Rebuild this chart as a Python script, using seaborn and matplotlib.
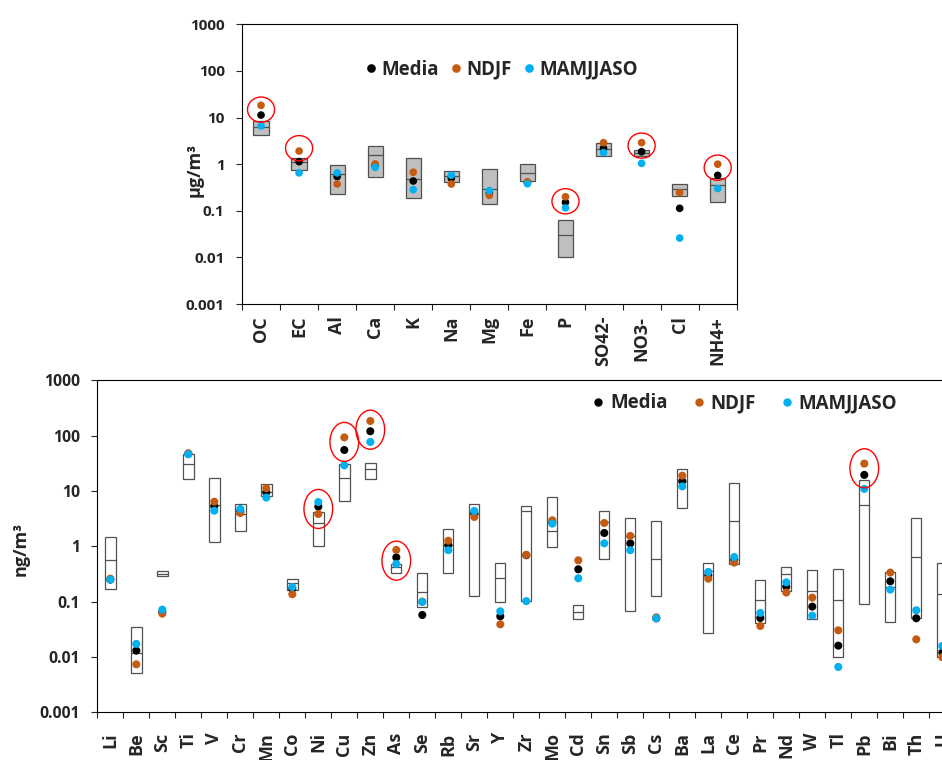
import numpy as np
import pandas as pd
import seaborn as sns
import matplotlib.pyplot as plt
from matplotlib.lines import Line2D
from matplotlib.markers import MarkerStyle
from matplotlib.path import Path
from matplotlib.transforms import Affine2D
from matplotlib.ticker import NullLocator

# upper panel, major components (ug/m3)
top_species = ['OC', 'EC', 'Al', 'Ca', 'K', 'Na', 'Mg', 'Fe', 'P', 'SO42-', 'NO3-', 'Cl', 'NH4+']
top_low = [4.2, 0.74, 0.233, 0.54, 0.19, 0.414, 0.137, 0.43, 0.01, 1.47, 1.47, 0.207, 0.154]
top_median = [6.2, 1.09, 0.615, 1.55, 0.48, 0.557, 0.30, 0.635, 0.0297, 2.11, 1.74, 0.288, 0.35]
top_high = [8.4, 1.38, 0.96, 2.5, 1.33, 0.72, 0.79, 1.03, 0.062, 2.8, 2.01, 0.369, 0.497]
top_media = [11.3, 1.13, 0.54, 0.93, 0.435, 0.50, 0.24, 0.40, 0.152, 2.2, 1.85, 0.113, 0.575]
top_ndjf = [18.3, 1.91, 0.375, 1.01, 0.67, 0.375, 0.214, 0.42, 0.2, 2.89, 2.89, 0.245, 1.0]
top_mamj = [6.6, 0.65, 0.65, 0.855, 0.284, 0.58, 0.27, 0.38, 0.115, 1.77, 1.04, 0.026, 0.30]
top_marked = {'OC': 14.8, 'EC': 2.2, 'P': 0.16, 'NO3-': 2.5, 'NH4+': 0.84}

# lower panel, trace elements (ng/m3)
elements = ['Li', 'Be', 'Sc', 'Ti', 'V', 'Cr', 'Mn', 'Co', 'Ni', 'Cu', 'Zn', 'As', 'Se', 'Rb',
            'Sr', 'Y', 'Zr', 'Mo', 'Cd', 'Sn', 'Sb', 'Cs', 'Ba', 'La', 'Ce', 'Pr', 'Nd', 'W',
            'Tl', 'Pb', 'Bi', 'Th', 'U']
el_low = [0.172, 0.00514, 0.295, 16.3, 1.18, 1.89, 8.2, 0.163, 1.01, 6.6, 16.5, 0.325, 0.080,
          0.325, 0.126, 0.0986, 0.103, 0.986, 0.0486, 0.59, 0.0687, 0.128, 5.0, 0.0272, 0.48,
          0.0406, 0.154, 0.0486, 0.00986, 0.0895, 0.0423, 0.05, 0.00986]
el_median = [0.566, 0.012, 0.32, 31.2, 5.6, 3.79, 9.7, 0.214, 2.68, 17.2, 25, 0.43, 0.15,
             1.06, 3.79, 0.272, 4.29, 1.87, 0.065, 2.79, 1.54, 0.58, 15.4, 0.363, 2.91,
             0.106, 0.316, 0.154, 0.107, 5.6, 0.18, 0.65, 0.136]
el_high = [1.50, 0.0348, 0.353, 46, 17.4, 5.74, 13.6, 0.253, 4.23, 30.3, 31.6, 0.473, 0.334,
           2.06, 5.74, 0.507, 5.36, 7.7, 0.087, 4.3, 3.3, 2.91, 24.6, 0.507, 13.8,
           0.25, 0.423, 0.368, 0.389, 15.8, 0.35, 3.3, 0.493]
el_media = [0.25, 0.013, 0.065, 47, 5.3, 4.3, 9.5, 0.17, 5.2, 55, 120, 0.63, 0.0574,
            1.05, 4.0, 0.0543, 0.69, 2.7, 0.384, 1.74, 1.13, 0.05, 15, 0.3, 0.57,
            0.0507, 0.187, 0.0813, 0.016, 19.5, 0.233, 0.05, 0.012]
el_ndjf = [0.26, 0.00736, 0.0607, 48, 6.4, 4.0, 11.2, 0.136, 3.84, 93, 184, 0.86, 0.1,
           1.26, 3.39, 0.0389, 0.70, 2.95, 0.558, 2.64, 1.54, 0.052, 18.9, 0.26, 0.507,
           0.0363, 0.146, 0.118, 0.0303, 31.2, 0.335, 0.0208, 0.0099]
el_mamj = [0.25, 0.0172, 0.0716, 46, 4.4, 4.73, 7.6, 0.184, 6.3, 29, 77, 0.48, 0.0986,
           0.85, 4.35, 0.0668, 0.102, 2.57, 0.264, 1.13, 0.85, 0.05, 12.1, 0.344, 0.64,
           0.0624, 0.223, 0.0558, 0.0066, 10.9, 0.165, 0.0697, 0.0158]
el_marked = {'Ni': 4.73, 'Cu': 77, 'Zn': 128, 'As': 0.55, 'Pb': 25.7}

series = ['Media', 'NDJF', 'MAMJJASO']
palette = {'Media': 'black', 'NDJF': '#C55A11', 'MAMJJASO': '#00B0F0'}
decades = [0.001, 0.01, 0.1, 1, 10, 100, 1000]
decade_labels = ['0.001', '0.01', '0.1', '1', '10', '100', '1000']

sns.set_style('ticks')
plt.rcParams['font.family'] = ['Open Sans', 'DejaVu Sans']
plt.rcParams['font.weight'] = 'bold'
plt.rcParams['axes.labelweight'] = 'bold'
plt.rcParams['axes.edgecolor'] = 'black'
plt.rcParams['axes.linewidth'] = 0.8


def draw_panel(ax, names, low, med, high, media, ndjf, mamj, box_color, dot):
    # each box runs from low to high with a line at the median
    boxes = pd.DataFrame({'species': np.repeat(names, 5),
                          'value': np.column_stack([low, low, med, high, high]).ravel()})
    sns.boxplot(data=boxes, x='species', y='value', order=names, whis=0, width=0.4,
                color=box_color, saturation=1, linecolor='#505050', linewidth=0.9,
                showcaps=False, fliersize=0, log_scale=True, ax=ax)
    pts = pd.concat([pd.DataFrame({'species': names, 'value': v, 'serie': s})
                     for s, v in zip(series, [media, ndjf, mamj])])
    sns.stripplot(data=pts, x='species', y='value', hue='serie', order=names,
                  hue_order=series, palette=palette, jitter=False, size=dot, linewidth=0,
                  log_scale=True, legend=False, ax=ax)
    n = len(names)
    ax.set_xlim(-0.5, n - 0.5)
    ax.set_ylim(0.001, 1000)
    ax.set_yticks(decades, decade_labels)
    ax.yaxis.set_minor_locator(NullLocator())
    ax.set_xticks(np.arange(n + 1) - 0.5, [''] * (n + 1))
    ax.set_xticks(np.arange(n), names, minor=True)
    ax.tick_params(axis='both', which='major', length=4, width=0.8, direction='out')
    ax.tick_params(axis='y', pad=8.5)
    ax.set_xlabel('')
    for s in ax.spines.values():
        s.set_visible(True)
        s.set_color('black')


def ring(ax, names, marked, size, stretch):
    shape = MarkerStyle(Path.unit_circle().transformed(Affine2D().scale(1, stretch)))
    ax.scatter([names.index(k) for k in marked], list(marked.values()), s=size,
               marker=shape, facecolors='none', edgecolors='red', linewidths=1.0, zorder=5)


def legend(ax, anchor, msize, colsp, tpad):
    handles = [Line2D([], [], marker='o', ls='', color=palette[s], markersize=msize)
               for s in series]
    ax.legend(handles, series, loc='center', bbox_to_anchor=anchor, ncol=3, frameon=False,
              handlelength=0.5, handletextpad=tpad, columnspacing=colsp,
              prop={'size': 13.5, 'weight': 'bold'})


fig = plt.figure(figsize=(9.42, 7.6), dpi=100)
ax1 = fig.add_axes([0.2569, 0.6, 0.5252, 0.368])
ax2 = fig.add_axes([0.1033, 0.0628, 0.9108, 0.4368])

draw_panel(ax1, top_species, top_low, top_median, top_high, top_media, top_ndjf, top_mamj,
           '#BFBFBF', 5.5)
ring(ax1, top_species, top_marked, 380, 0.93)
legend(ax1, (0.526, 0.837), 5.2, 0.7, 0.27)
ax1.set_ylabel('µg/m³', fontsize=13)
ax1.yaxis.set_label_coords(-0.078, 0.481)
ax1.tick_params(axis='y', labelsize=11)
ax1.tick_params(axis='x', which='minor', length=0, labelsize=13, labelrotation=90, pad=8.6)

draw_panel(ax2, elements, el_low, el_median, el_high, el_media, el_ndjf, el_mamj,
           'white', 5.8)
ring(ax2, elements, el_marked, 790, 1.36)
legend(ax2, (0.7555, 0.931), 5.0, 1.4, 0.38)
ax2.set_ylabel('ng/m³', fontsize=13)
ax2.yaxis.set_label_coords(-0.079, 0.492)
ax2.tick_params(axis='y', labelsize=11.3)
ax2.tick_params(axis='x', which='minor', length=0, labelsize=13, labelrotation=90, pad=14.5)

fig.savefig('out.png', dpi=100)
